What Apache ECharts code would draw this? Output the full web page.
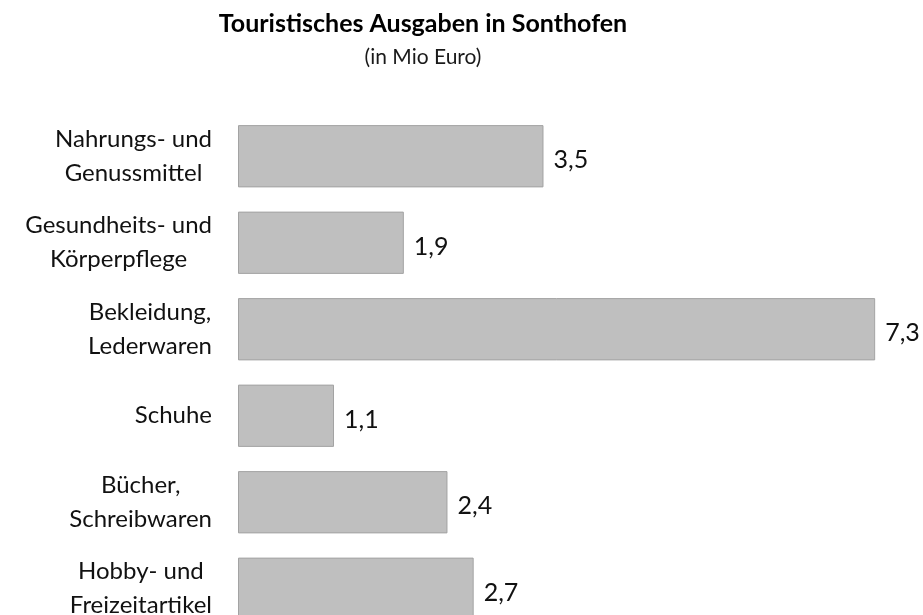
<!DOCTYPE html>
<html>
<head>
<meta charset="utf-8">
<script src="https://cdn.jsdelivr.net/npm/echarts@6/dist/echarts.min.js"></script>
<style>
  html, body { margin: 0; padding: 0; background: #fff; overflow: hidden; }
  /* the source picture is cropped at the bottom, so the chart runs past the window */
  #chart { width: 923px; height: 632px; }
</style>
</head>
<body>
<div id="chart"></div>
<script>
const categories = [
  'Nahrungs- und\nGenussmittel',
  'Gesundheits- und\nKörperpflege',
  'Bekleidung,\nLederwaren',
  'Schuhe',
  'Bücher,\nSchreibwaren',
  'Hobby- und\nFreizeitartikel'
]
const values = [3.5, 1.9, 7.3, 1.1, 2.4, 2.7]

const font = 'Lato, "Open Sans", sans-serif'
const chart = echarts.init(document.getElementById('chart'))

chart.setOption({
  animation: false,
  title: {
    text: 'Touristisches Ausgaben in Sonthofen',
    subtext: '(in Mio Euro)',
    left: 418,
    textAlign: 'center',
    top: 6,
    itemGap: 11,
    textStyle: { fontFamily: font, fontSize: 25, fontWeight: 'bold', color: '#000' },
    subtextStyle: { fontFamily: font, fontSize: 21, color: '#1a1a1a' }
  },
  grid: { left: 238, right: 33, top: 113, bottom: 0 },
  xAxis: {
    type: 'value',
    min: 0,
    max: 7.47,
    show: false
  },
  yAxis: {
    type: 'category',
    inverse: true,
    data: categories,
    axisLine: { show: false },
    axisTick: { show: false },
    axisLabel: {
      margin: 26,
      align: 'right',
      lineHeight: 34,
      fontFamily: font,
      fontSize: 24,
      color: '#111',
      formatter: v => v.split('\n').map(s => '{c|' + s + '}').join('\n'),
      rich: {
        c: { align: 'center', fontFamily: font, fontSize: 24, lineHeight: 34, color: '#111' }
      }
    }
  },
  series: [
    {
      type: 'bar',
      data: values,
      barCategoryGap: '28%',
      itemStyle: { color: '#bfbfbf', borderColor: '#a3a3a3', borderWidth: 1 },
      label: {
        show: true,
        position: 'right',
        distance: 10,
        fontFamily: font,
        fontSize: 25,
        color: '#111',
        offset: [0, 4],
        formatter: p => String(p.value).replace('.', ',')
      }
    }
  ]
})
</script>
</body>
</html>
